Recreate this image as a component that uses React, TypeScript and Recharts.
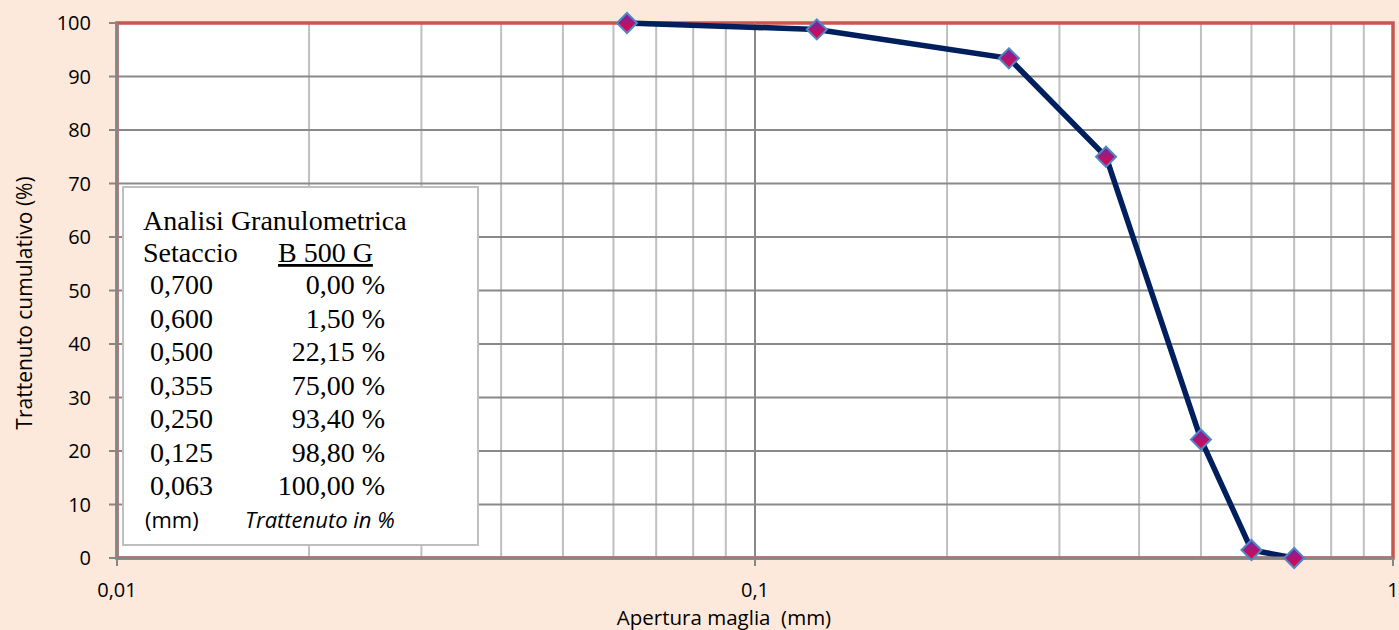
import React from "react";
import {
  LineChart,
  Line,
  XAxis,
  YAxis,
  CartesianGrid,
  ReferenceLine,
  ReferenceArea,
} from "recharts";

// Sieve analysis (B 500 G)
const sieveSizes = [0.063, 0.125, 0.25, 0.355, 0.5, 0.6, 0.7];
const retained = [100, 98.8, 93.4, 75, 22.15, 1.5, 0];

const yTicks = [0, 10, 20, 30, 40, 50, 60, 70, 80, 90, 100];
const decadeTicks = [0.01, 0.1, 1];
const xGridTicks = [
  0.01, 0.02, 0.03, 0.04, 0.05, 0.06, 0.07, 0.08, 0.09,
  0.1, 0.2, 0.3, 0.4, 0.5, 0.6, 0.7, 0.8, 0.9, 1,
];

const chartData = sieveSizes.map((size, i) => ({ size, retained: retained[i] }));

// table lists the sieves from the coarsest down
const tableRows = sieveSizes
  .map((size, i) => ({ size, value: retained[i] }))
  .reverse();

const comma = (v: number, digits?: number) =>
  (digits === undefined ? String(v) : v.toFixed(digits)).replace(".", ",");

const sans = "'Open Sans', sans-serif";
const serif = "'Liberation Serif', 'Times New Roman', serif";

const Diamond = (props: any) => {
  const { cx, cy, index } = props;
  if (cx == null || cy == null) return <g key={index} />;
  const r = 10;
  return (
    <path
      key={index}
      d={`M${cx},${cy - r}L${cx + r},${cy}L${cx},${cy + r}L${cx - r},${cy}Z`}
      fill="url(#markerFill)"
      stroke="#4f86c6"
      strokeWidth={2}
    />
  );
};

const XTick = (props: any) => {
  const { x, y, payload } = props;
  const v = payload.value;
  const isDecade = decadeTicks.some((d) => Math.abs(d - v) < 1e-9);
  if (!isDecade) return <g />;
  return (
    <g>
      <line x1={x} y1={y} x2={x} y2={y + 8} stroke="#868686" strokeWidth={2} />
      <text x={x} y={y + 39} textAnchor="middle" fill="#000" fontSize={20} fontFamily={sans}>
        {comma(v)}
      </text>
    </g>
  );
};

const App: React.FC = () => {
  return (
    <div
      style={{
        position: "absolute",
        left: 0,
        top: 0,
        width: 1399,
        height: 630,
        background: "#fde9db",
        overflow: "hidden",
      }}
    >
      <LineChart
        width={1399}
        height={630}
        data={chartData}
        margin={{ top: 23, right: 6, bottom: 12, left: 0 }}
      >
        <defs>
          <linearGradient id="markerFill" x1="0" y1="0" x2="0" y2="1">
            <stop offset="0%" stopColor="#6a2aa8" />
            <stop offset="100%" stopColor="#f0003c" />
          </linearGradient>
        </defs>
        <CartesianGrid horizontal={false} fill="#ffffff" stroke="#bfbfbf" strokeWidth={2} />
        <CartesianGrid vertical={false} stroke="#898989" strokeWidth={2} />
        <XAxis
          dataKey="size"
          type="number"
          scale="log"
          domain={[0.01, 1]}
          ticks={xGridTicks}
          interval={0}
          allowDataOverflow
          height={60}
          tickLine={false}
          tickSize={0}
          tickMargin={0}
          tick={<XTick />}
          axisLine={{ stroke: "#868686", strokeWidth: 3 }}
        />
        <YAxis
          type="number"
          domain={[0, 100]}
          ticks={yTicks}
          interval={0}
          width={117}
          tickSize={8}
          tickMargin={18}
          tickLine={{ stroke: "#868686", strokeWidth: 2 }}
          axisLine={{ stroke: "#868686", strokeWidth: 3 }}
          tick={{ fill: "#000", fontSize: 20, fontFamily: sans }}
        />
        <ReferenceLine x={0.1} stroke="#898989" strokeWidth={2} />
        <ReferenceArea
          x1={0.01}
          x2={1}
          y1={0}
          y2={100}
          fill="none"
          fillOpacity={0}
          stroke="#c9554f"
          strokeWidth={3.5}
          ifOverflow="visible"
        />
        <Line
          type="linear"
          dataKey="retained"
          stroke="#001f5c"
          strokeWidth={5.5}
          dot={<Diamond />}
          activeDot={false}
          isAnimationActive={false}
        />
      </LineChart>

      <svg
        width={1399}
        height={630}
        style={{ position: "absolute", left: 0, top: 0, pointerEvents: "none" }}
      >
        {/* axis titles */}
        <text
          x={32}
          y={303}
          transform="rotate(-90 32 303)"
          textAnchor="middle"
          fontSize={21}
          fontFamily={sans}
          fill="#000"
        >
          Trattenuto cumulativo (%)
        </text>
        <text x={724} y={625} textAnchor="middle" fontSize={20.5} fontFamily={sans} fill="#000" xmlSpace="preserve">
          Apertura maglia  (mm)
        </text>

        {/* legend box */}
        <rect x={123} y={187} width={355} height={358} fill="#ffffff" stroke="#bfbfbf" strokeWidth={2} />
        <g fontFamily={serif} fontSize={28} fill="#000">
          <text x={143} y={230}>Analisi Granulometrica</text>
          <text x={143} y={262}>Setaccio</text>
          <text x={278} y={262} style={{ textDecoration: "underline" }}>B 500 G</text>
          {tableRows.map((r, i) => (
            <g key={r.size}>
              <text x={150} y={294 + i * 33.5}>{comma(r.size, 3)}</text>
              <text x={385} y={294 + i * 33.5} textAnchor="end">
                {comma(r.value, 2) + " %"}
              </text>
            </g>
          ))}
        </g>
        <text x={145} y={528} fontFamily={sans} fontSize={22} fill="#000">(mm)</text>
        <text x={245} y={528} fontFamily={sans} fontSize={22} fontStyle="italic" fill="#000">
          Trattenuto in %
        </text>
      </svg>
    </div>
  );
};

export default App;
